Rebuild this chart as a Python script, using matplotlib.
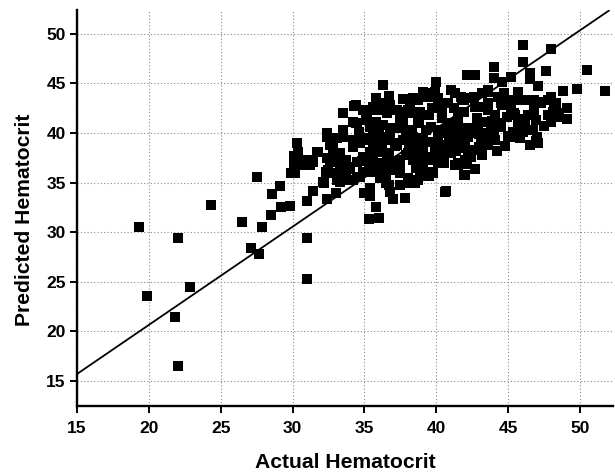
import matplotlib
matplotlib.use("Agg")
import matplotlib.pyplot as plt
import numpy as np

# ---- data ----
actual = [
    # sparse, low range
    19.3, 22.0, 19.9, 21.8, 22.9, 22.0, 24.3, 26.5, 27.1, 27.7, 27.5, 27.9, 28.6, 28.5, 29.1, 29.2,
    29.8, 29.9, 30.2, 30.1, 30.3, 30.4, 30.7, 30.7, 31.2, 31.7, 31.0, 31.4, 31.0, 31.0,
    # upper / right outliers
    46.0, 48.0, 46.0, 44.0, 42.1, 42.7, 47.6, 50.5, 49.8, 51.7, 44.0, 45.2, 46.5, 46.5, 47.1,
    40.0, 36.3, 36.7, 37.7, 34.3, 33.5, 45.4, 46.5, 47.1, 46.7, 49.1, 49.1, 48.8,
    # lower tail of cluster
    40.7, 42.0, 42.7, 41.5, 42.0, 35.3, 36.0, 35.8, 35.0, 35.4, 35.4, 36.8, 37.0, 37.8, 36.7,
    37.5, 38.2, 38.5, 39.3, 39.5, 32.2, 32.4, 33.0, 33.1, 33.3, 31.8, 31.4, 30.9,
    # cluster, left part
    35.2, 35.6, 36.1, 35.1, 34.4, 33.5, 35.4, 36.6, 37.3, 37.5, 36.8, 38.0, 38.4, 38.9, 38.7,
    39.4, 39.7, 40.4, 40.8, 41.0, 39.6, 37.9, 36.0, 34.6, 34.2, 33.5, 32.4,
    # cluster, middle
    35.8, 35.9, 36.6, 36.8, 37.5, 38.2, 38.9, 39.5, 40.4, 41.5, 42.0, 35.8, 36.3, 37.2, 37.7,
    38.3, 38.8, 39.3, 40.1, 40.8, 41.2, 35.6, 36.1, 36.8, 37.3, 37.9, 38.4, 38.9, 39.6, 40.3,
    40.9, 41.5, 35.9, 36.7, 37.3, 37.9, 38.7, 38.9, 39.5, 39.9, 40.5, 41.3, 41.9, 35.9, 36.5,
    37.5, 38.2, 38.9, 39.6, 39.1, 39.9, 38.4, 40.1, 41.8, 41.2,
    # cluster, left-lower
    34.4, 35.1, 35.8, 34.5, 35.4, 32.4, 33.1, 32.6, 30.3, 30.7, 31.4, 30.1, 30.2, 32.4, 33.3,
    34.2, 34.9, 35.6, 33.3, 34.5, 35.4, 32.3, 33.5, 34.5, 35.4, 32.1, 33.3,
    32.8, 32.8, 33.1, 32.6, 32.5, 32.8, 33.5, 34.2, 34.7, 35.2, 35.9,
    33.3, 33.7, 33.3, 34.0, 34.5, 34.9, 35.4, 35.6, 35.3, 34.9, 35.9, 36.1, 36.6, 36.8, 37.0,
    37.5, 37.5, 38.0, 38.4, 38.7, 39.1, 39.8, 40.3, 40.5, 41.0, 40.8, 40.1, 39.1, 38.4, 37.7,
    37.3, 36.8, 36.3, 35.6, 38.2, 38.7, 39.4, 39.8, 39.1, 40.1, 33.7, 33.9, 34.2, 34.7, 36.1,
    36.5, 40.6,
    # cluster, right part
    44.6, 43.6, 42.4, 41.9, 41.3, 45.7, 45.9, 46.6, 47.1, 48.0, 48.3, 48.1, 49.1, 48.0, 48.4,
    46.9, 45.5, 45.7, 45.2, 44.5, 44.6, 44.1, 44.3, 43.8, 43.3, 42.9, 43.6, 42.7, 41.9, 41.5,
    41.3, 42.4, 45.3, 41.5, 42.2, 43.3, 43.8, 43.6, 41.5, 41.9, 42.6, 41.5, 42.0,
    47.8, 48.2, 47.8, 48.0, 48.5, 46.8, 47.3, 46.8, 46.4, 45.7, 45.4, 45.2,
    43.6, 44.0, 44.5, 44.1, 43.1, 43.4, 42.6, 42.4,
    41.0, 41.7, 42.6, 43.2, 43.6, 39.4, 40.1, 38.7, 38.2, 44.3, 44.7, 44.5, 43.6, 43.1,
    34.9, 35.6, 36.3, 35.2,
    # extra fill
    42.8, 43.9, 44.9, 45.9, 46.2, 47.5, 42.3, 43.0, 44.0, 45.0, 46.0, 47.0, 42.0, 43.5, 44.8,
    45.8, 46.9, 40.6, 41.4, 42.2, 43.0, 44.2, 39.0, 40.0, 41.0, 42.1, 43.2, 37.0, 38.0, 39.2,
    36.2, 37.1, 38.1, 39.0, 40.2, 34.0, 34.8, 36.0, 37.2, 38.6,
]
predicted = [
    30.5, 29.4, 23.6, 21.5, 24.5, 16.5, 32.7, 31.0, 28.4, 27.8, 35.6, 30.5, 33.8, 31.7, 34.7, 32.5,
    32.6, 36.0, 36.0, 37.7, 39.0, 38.1, 36.8, 37.2, 36.8, 38.1, 33.1, 34.2, 29.4, 25.3,
    48.9, 48.5, 47.2, 46.6, 45.8, 45.8, 46.2, 46.3, 44.4, 44.2, 45.5, 45.6, 46.0, 45.4, 44.7,
    45.1, 44.8, 43.7, 43.4, 42.7, 42.0, 39.6, 38.8, 39.0, 40.3, 42.5, 41.4, 44.2,
    34.2, 35.8, 36.4, 36.8, 37.2, 31.3, 31.4, 32.5, 34.0, 34.5, 33.6, 34.1, 33.3, 33.4, 34.8,
    34.8, 35.0, 35.0, 35.7, 35.7, 35.0, 33.3, 34.0, 35.3, 35.9, 38.1, 37.3, 36.8,
    42.3, 42.6, 43.0, 41.3, 41.0, 40.3, 40.6, 42.0, 42.3, 41.5, 40.5, 42.3, 43.3, 42.0, 41.0,
    43.6, 42.5, 42.0, 43.0, 41.0, 40.6, 40.3, 40.1, 40.1, 41.1, 40.2, 40.0,
    43.5, 42.3, 42.0, 42.8, 42.1, 42.0, 42.1, 41.8, 41.5, 41.5, 40.5, 41.1, 40.8, 40.5, 41.0,
    40.3, 41.1, 40.3, 40.3, 40.6, 39.8, 39.5, 39.0, 39.6, 39.0, 39.5, 39.0, 39.5, 39.1, 38.8,
    39.1, 38.5, 38.1, 38.0, 37.1, 37.8, 38.0, 37.0, 37.3, 38.1, 37.6, 36.8, 35.8, 36.5, 36.0,
    36.0, 35.3, 36.1, 36.0, 44.1, 44.1, 43.5, 43.5, 43.5, 42.5,
    42.8, 42.1, 42.6, 41.0, 41.1, 39.6, 39.5, 38.8, 39.0, 37.3, 37.1, 37.0, 36.1, 37.5, 38.0,
    38.6, 39.3, 39.8, 37.0, 37.1, 38.1, 36.1, 36.0, 35.6, 36.1, 35.1, 35.1,
    39.3, 38.5, 37.8, 37.1, 36.3, 36.0, 39.6, 39.3, 39.0, 39.5, 40.0,
    38.0, 37.3, 36.6, 36.6, 37.1, 37.6, 38.0, 37.3, 36.6, 36.1, 36.3, 37.0, 37.6, 37.0, 36.3,
    36.6, 37.3, 38.0, 37.3, 36.6, 38.3, 37.6, 38.3, 37.0, 39.0, 40.0, 39.3, 39.3, 39.6, 39.3,
    38.8, 39.3, 39.6, 39.0, 35.3, 35.3, 36.1, 36.0, 37.0, 37.0, 35.6, 35.3, 35.3, 35.6, 35.5,
    35.0, 34.1,
    45.1, 44.1, 43.5, 43.3, 44.0, 44.1, 43.3, 43.3, 43.1, 43.6, 43.0, 42.1, 42.5, 41.1, 41.6,
    41.3, 41.8, 41.0, 42.5, 43.6, 42.8, 41.8, 41.0, 40.5, 41.1, 40.5, 42.3, 42.6, 42.1, 41.5,
    40.6, 40.5, 40.1, 39.8, 39.6, 39.8, 39.3, 38.8, 39.3, 39.1, 38.3, 37.0, 37.3,
    43.3, 42.6, 41.8, 41.1, 42.0, 43.3, 43.0, 42.3, 41.8, 41.0, 42.0, 43.3,
    40.0, 40.1, 40.6, 39.3, 39.6, 39.0, 38.3, 37.6,
    44.3, 43.6, 43.6, 44.0, 44.3, 44.0, 42.6, 43.3, 42.6, 43.6, 44.0, 43.0, 43.0, 42.6,
    42.3, 42.6, 43.0, 41.3,
    41.5, 41.2, 41.6, 41.4, 40.8, 40.7, 40.0, 39.9, 40.2, 39.7, 40.1, 39.6, 38.9, 39.0, 38.7,
    39.5, 39.2, 38.5, 38.2, 38.0, 38.6, 38.2, 37.8, 38.4, 38.0, 36.9, 37.8, 36.4, 35.5, 35.7,
    38.4, 38.7, 38.4, 38.1, 38.0, 36.4, 37.2, 36.9, 38.9, 36.5,
]

fit_slope = 0.99
fit_intercept = 0.85
fit_x = [15, 52]

x_ticks = [15, 20, 25, 30, 35, 40, 45, 50]
y_ticks = [15, 20, 25, 30, 35, 40, 45, 50]

# ---- figure ----
plt.rcParams['font.family'] = ['Liberation Sans', 'DejaVu Sans']
fig = plt.figure(figsize=(6.15, 4.73), dpi=100)
ax = fig.add_axes([0.125, 0.142, 0.872, 0.837])

ax.set_xlim(15, 52.3)
ax.set_ylim(12.5, 52.4)

ax.grid(True, which='major', color='#888888', linestyle=(0, (1, 2)), linewidth=0.8)
ax.set_axisbelow(True)

fit_y = [fit_slope * v + fit_intercept for v in fit_x]
ax.plot(fit_x, fit_y, color='black', linewidth=1.3, zorder=2)

ax.scatter(actual, predicted, marker='s', s=46, color='black', linewidths=0, zorder=3)

ax.set_xticks(x_ticks)
ax.set_yticks(y_ticks)
for lab in ax.get_xticklabels() + ax.get_yticklabels():
    lab.set_fontweight('bold')
    lab.set_fontsize(12.5)

ax.tick_params(direction='out', length=5, width=1.4, colors='black')
ax.tick_params(axis='x', pad=6)
ax.tick_params(axis='y', pad=3)

for side in ['top', 'right']:
    ax.spines[side].set_visible(False)
for side in ['left', 'bottom']:
    ax.spines[side].set_linewidth(1.7)
    ax.spines[side].set_color('black')

ax.set_xlabel('Actual Hematocrit', fontsize=15.2, fontweight='bold')
ax.set_ylabel('Predicted Hematocrit', fontsize=15.2, fontweight='bold')
ax.xaxis.set_label_coords(0.5, -0.118)
ax.yaxis.set_label_coords(-0.080, 0.47)

fig.savefig('out.png', dpi=100)
